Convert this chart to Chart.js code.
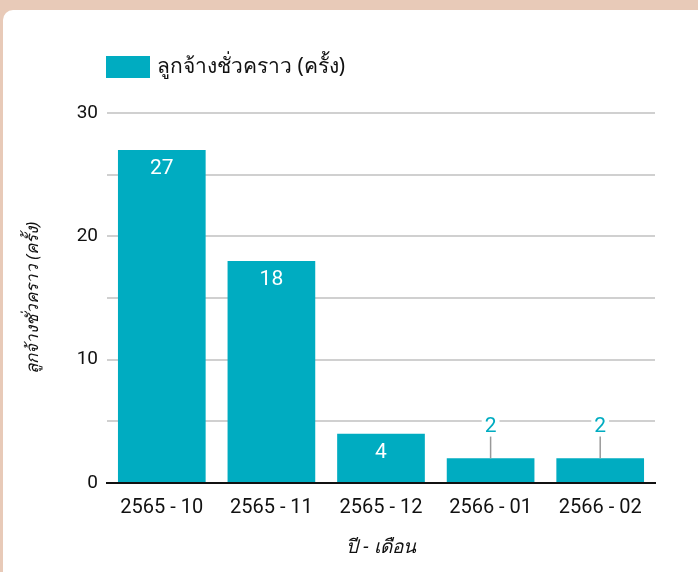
<!DOCTYPE html>
<html lang="th">
<head>
  <meta charset="UTF-8">
  <title>ลูกจ้างชั่วคราว</title>
  <script src="https://cdn.jsdelivr.net/npm/chart.js"></script>
  <style>
    html, body { margin: 0; padding: 0; width: 698px; height: 572px; overflow: hidden; background: #e8cab8; }
    .card { position: absolute; left: 3px; top: 10px; width: 710px; height: 580px; background: #fff; border-radius: 10px; }
    #barChart { position: absolute; left: 0; top: 0; }
  </style>
</head>
<body>
  <div class="card"></div>
  <canvas id="barChart" width="698" height="572"></canvas>
  <script>
    // ข้อมูล
    var months = ['2565 - 10', '2565 - 11', '2565 - 12', '2566 - 01', '2566 - 02'];
    var tempWorkers = [27, 18, 4, 2, 2];
    var seriesLabel = 'ลูกจ้างชั่วคราว (ครั้ง)';
    var xTitle = 'ปี - เดือน';
    var yTitle = 'ลูกจ้างชั่วคราว (ครั้ง)';

    var teal = '#00acc1';
    var thaiFont = "'Noto Sans', 'DejaVu Sans', sans-serif";

    // legend วาดเอง (ชิดซ้ายตามแกน)
    var legendPlugin = {
      id: 'leftLegend',
      afterDraw: function(chart) {
        var ctx = chart.ctx;
        var ds = chart.data.datasets[0];
        ctx.save();
        ctx.fillStyle = ds.backgroundColor;
        ctx.fillRect(106, 56, 44, 22);
        ctx.fillStyle = '#111';
        ctx.font = '21px ' + thaiFont;
        ctx.textBaseline = 'middle';
        ctx.fillText(ds.label, 157, 67);
        ctx.restore();
      }
    };

    // ป้ายตัวเลขบนแท่ง
    var valuePlugin = {
      id: 'valueLabels',
      afterDatasetsDraw: function(chart) {
        var ctx = chart.ctx;
        var meta = chart.getDatasetMeta(0);
        var data = chart.data.datasets[0].data;
        ctx.save();
        ctx.font = '21px Roboto';
        ctx.textAlign = 'center';
        ctx.textBaseline = 'middle';
        meta.data.forEach(function(bar, i) {
          var h = bar.base - bar.y;
          var txt = String(data[i]);
          if (h > 35) {
            ctx.fillStyle = '#fff';
            ctx.fillText(txt, bar.x, bar.y + 19);
          } else {
            var ly = bar.y - 32;
            ctx.strokeStyle = '#999';
            ctx.lineWidth = 1.5;
            ctx.beginPath();
            ctx.moveTo(bar.x, bar.y);
            ctx.lineTo(bar.x, ly + 10);
            ctx.stroke();
            var w = ctx.measureText(txt).width + 6;
            ctx.fillStyle = '#fff';
            ctx.fillRect(bar.x - w / 2, ly - 10, w, 20);
            ctx.fillStyle = teal;
            ctx.fillText(txt, bar.x, ly);
          }
        });
        ctx.restore();
      }
    };

    new Chart(document.getElementById('barChart').getContext('2d'), {
      type: 'bar',
      data: {
        labels: months,
        datasets: [{
          label: seriesLabel,
          data: tempWorkers,
          backgroundColor: teal,
          categoryPercentage: 1,
          barPercentage: 0.8
        }]
      },
      options: {
        responsive: false,
        animation: false,
        layout: { padding: { left: 0, right: 43, top: 113, bottom: 0 } },
        plugins: {
          legend: { display: false },
          tooltip: { enabled: false }
        },
        scales: {
          x: {
            afterFit: function(s) { s.height = 89; },
            grid: { display: false, drawTicks: false },
            border: { display: true, color: '#111', width: 2 },
            ticks: { color: '#111', font: { family: 'Roboto', size: 20 }, padding: 13, maxRotation: 0 },
            title: { display: true, text: xTitle, color: '#111', font: { family: thaiFont, size: 19, style: 'italic' }, padding: { top: 0, bottom: 13 } }
          },
          y: {
            min: 0,
            max: 30,
            afterFit: function(s) { s.width = 107; },
            grid: { color: '#d0d0d0', lineWidth: 2, drawTicks: false },
            border: { display: false },
            ticks: {
              stepSize: 5,
              padding: 9,
              color: '#111',
              font: { family: 'Roboto', size: 19 },
              callback: function(v) { return v % 10 === 0 ? v : ''; }
            },
            title: { display: true, text: yTitle, color: '#111', font: { family: thaiFont, size: 17, style: 'italic' }, padding: { top: 23, bottom: 0 } }
          }
        }
      },
      plugins: [legendPlugin, valuePlugin]
    });
  </script>
</body>
</html>
